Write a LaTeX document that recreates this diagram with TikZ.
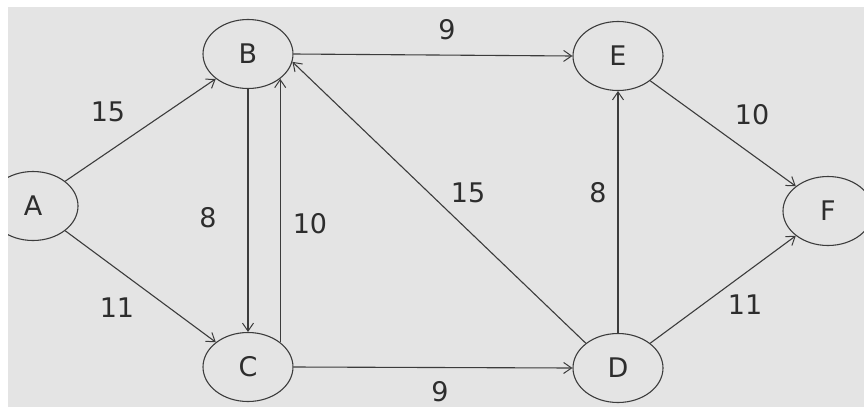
\documentclass[tikz,border=0pt]{standalone}
\usepackage{fontspec}
\setmainfont{DejaVu Sans}
\usetikzlibrary{shapes.geometric,arrows.meta}
\definecolor{paper}{RGB}{228,228,228}
\definecolor{ink}{RGB}{45,45,45}
\definecolor{linec}{RGB}{60,60,60}
\begin{document}
\begin{tikzpicture}[x=1pt,y=-1pt,
  vertex/.style={ellipse,draw=linec,line width=1.1pt,minimum width=90pt,minimum height=69pt,inner sep=0pt,
    text=ink,font=\fontsize{27}{30}\selectfont},
  edge/.style={draw=linec,line width=1.1pt,-{Straight Barb[length=8pt,width=11pt,line width=1pt]}},
  weight/.style={text=ink,font=\fontsize{27}{30}\selectfont,inner sep=0pt}]
\useasboundingbox (0,0) rectangle (864,407);
\fill[white] (0,0) rectangle (864,407);
\fill[paper] (8,7) rectangle (864,407);
\begin{scope}
\clip (8,7) rectangle (864,407);
\node[vertex] (A) at (33,206) {A};
\node[vertex] (B) at (248,54) {B};
\node[vertex] (C) at (248,367) {C};
\node[vertex] (D) at (618,368) {D};
\node[vertex] (E) at (618,56) {E};
\node[vertex] (F) at (828,211) {F};
\draw[edge] (A.north east) -- (B.south west);
\draw[edge] (A.south east) -- (C.north west);
\draw[edge] (B.south) -- (C.north);
\draw[edge] (C.north east) -- (B.south east);
\draw[edge] (B.east) -- (E.west);
\draw[edge] (D.north west) -- (B.-10);
\draw[edge] (C.east) -- (D.west);
\draw[edge] (D.north) -- (E.south);
\draw[edge] (E.south east) -- (F.north west);
\draw[edge] (D.north east) -- (F.south west);
\end{scope}
\node[weight] (w1) at (108,112) {15};
\node[weight] (w2) at (117,308) {11};
\node[weight] (w3) at (208,218) {8};
\node[weight] (w4) at (310,224) {10};
\node[weight] (w5) at (447,30) {9};
\node[weight] (w6) at (468,193) {15};
\node[weight] (w7) at (440,392) {9};
\node[weight] (w8) at (598,193) {8};
\node[weight] (w9) at (752,115) {10};
\node[weight] (w10) at (745,305) {11};
\end{tikzpicture}
\end{document}
